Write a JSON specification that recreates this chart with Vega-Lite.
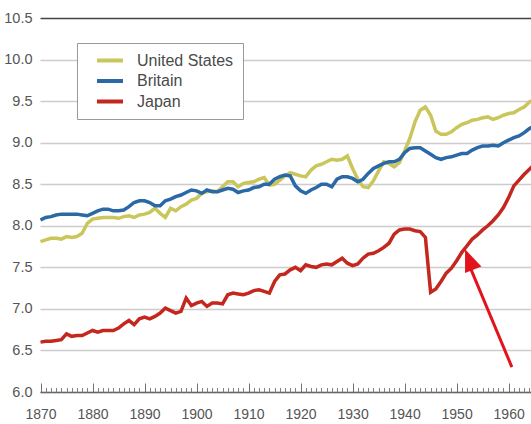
{
  "$schema": "https://vega.github.io/schema/vega-lite/v6.json",
  "width": 491,
  "height": 374,
  "autosize": {"type": "none"},
  "padding": {"left": 40, "top": 18, "right": 0, "bottom": 32},
  "datasets": {
    "series": [
      {"year": 1870, "country": "United States", "value": 7.81},
      {"year": 1871, "country": "United States", "value": 7.83},
      {"year": 1872, "country": "United States", "value": 7.85},
      {"year": 1873, "country": "United States", "value": 7.85},
      {"year": 1874, "country": "United States", "value": 7.84},
      {"year": 1875, "country": "United States", "value": 7.87},
      {"year": 1876, "country": "United States", "value": 7.86},
      {"year": 1877, "country": "United States", "value": 7.87},
      {"year": 1878, "country": "United States", "value": 7.91},
      {"year": 1879, "country": "United States", "value": 8.03},
      {"year": 1880, "country": "United States", "value": 8.08},
      {"year": 1881, "country": "United States", "value": 8.09},
      {"year": 1882, "country": "United States", "value": 8.10},
      {"year": 1883, "country": "United States", "value": 8.10},
      {"year": 1884, "country": "United States", "value": 8.10},
      {"year": 1885, "country": "United States", "value": 8.09},
      {"year": 1886, "country": "United States", "value": 8.11},
      {"year": 1887, "country": "United States", "value": 8.12},
      {"year": 1888, "country": "United States", "value": 8.10},
      {"year": 1889, "country": "United States", "value": 8.13},
      {"year": 1890, "country": "United States", "value": 8.14},
      {"year": 1891, "country": "United States", "value": 8.16},
      {"year": 1892, "country": "United States", "value": 8.21},
      {"year": 1893, "country": "United States", "value": 8.15},
      {"year": 1894, "country": "United States", "value": 8.10},
      {"year": 1895, "country": "United States", "value": 8.21},
      {"year": 1896, "country": "United States", "value": 8.18},
      {"year": 1897, "country": "United States", "value": 8.23},
      {"year": 1898, "country": "United States", "value": 8.26},
      {"year": 1899, "country": "United States", "value": 8.31},
      {"year": 1900, "country": "United States", "value": 8.33},
      {"year": 1901, "country": "United States", "value": 8.39},
      {"year": 1902, "country": "United States", "value": 8.41},
      {"year": 1903, "country": "United States", "value": 8.42},
      {"year": 1904, "country": "United States", "value": 8.41},
      {"year": 1905, "country": "United States", "value": 8.47},
      {"year": 1906, "country": "United States", "value": 8.53},
      {"year": 1907, "country": "United States", "value": 8.53},
      {"year": 1908, "country": "United States", "value": 8.47},
      {"year": 1909, "country": "United States", "value": 8.51},
      {"year": 1910, "country": "United States", "value": 8.52},
      {"year": 1911, "country": "United States", "value": 8.53},
      {"year": 1912, "country": "United States", "value": 8.56},
      {"year": 1913, "country": "United States", "value": 8.58},
      {"year": 1914, "country": "United States", "value": 8.49},
      {"year": 1915, "country": "United States", "value": 8.50},
      {"year": 1916, "country": "United States", "value": 8.55},
      {"year": 1917, "country": "United States", "value": 8.60},
      {"year": 1918, "country": "United States", "value": 8.64},
      {"year": 1919, "country": "United States", "value": 8.62},
      {"year": 1920, "country": "United States", "value": 8.60},
      {"year": 1921, "country": "United States", "value": 8.59},
      {"year": 1922, "country": "United States", "value": 8.67},
      {"year": 1923, "country": "United States", "value": 8.72},
      {"year": 1924, "country": "United States", "value": 8.74},
      {"year": 1925, "country": "United States", "value": 8.77},
      {"year": 1926, "country": "United States", "value": 8.80},
      {"year": 1927, "country": "United States", "value": 8.79},
      {"year": 1928, "country": "United States", "value": 8.80},
      {"year": 1929, "country": "United States", "value": 8.84},
      {"year": 1930, "country": "United States", "value": 8.69},
      {"year": 1931, "country": "United States", "value": 8.56},
      {"year": 1932, "country": "United States", "value": 8.47},
      {"year": 1933, "country": "United States", "value": 8.46},
      {"year": 1934, "country": "United States", "value": 8.54},
      {"year": 1935, "country": "United States", "value": 8.66},
      {"year": 1936, "country": "United States", "value": 8.77},
      {"year": 1937, "country": "United States", "value": 8.75},
      {"year": 1938, "country": "United States", "value": 8.71},
      {"year": 1939, "country": "United States", "value": 8.76},
      {"year": 1940, "country": "United States", "value": 8.90},
      {"year": 1941, "country": "United States", "value": 9.05},
      {"year": 1942, "country": "United States", "value": 9.25},
      {"year": 1943, "country": "United States", "value": 9.39},
      {"year": 1944, "country": "United States", "value": 9.43},
      {"year": 1945, "country": "United States", "value": 9.33},
      {"year": 1946, "country": "United States", "value": 9.14},
      {"year": 1947, "country": "United States", "value": 9.10},
      {"year": 1948, "country": "United States", "value": 9.10},
      {"year": 1949, "country": "United States", "value": 9.13},
      {"year": 1950, "country": "United States", "value": 9.18},
      {"year": 1951, "country": "United States", "value": 9.22},
      {"year": 1952, "country": "United States", "value": 9.24},
      {"year": 1953, "country": "United States", "value": 9.27},
      {"year": 1954, "country": "United States", "value": 9.28},
      {"year": 1955, "country": "United States", "value": 9.30},
      {"year": 1956, "country": "United States", "value": 9.31},
      {"year": 1957, "country": "United States", "value": 9.28},
      {"year": 1958, "country": "United States", "value": 9.30},
      {"year": 1959, "country": "United States", "value": 9.33},
      {"year": 1960, "country": "United States", "value": 9.35},
      {"year": 1961, "country": "United States", "value": 9.36},
      {"year": 1962, "country": "United States", "value": 9.40},
      {"year": 1963, "country": "United States", "value": 9.43},
      {"year": 1964, "country": "United States", "value": 9.49},
      {"year": 1965, "country": "United States", "value": 9.52},
      {"year": 1870, "country": "Britain", "value": 8.07},
      {"year": 1871, "country": "Britain", "value": 8.10},
      {"year": 1872, "country": "Britain", "value": 8.11},
      {"year": 1873, "country": "Britain", "value": 8.13},
      {"year": 1874, "country": "Britain", "value": 8.14},
      {"year": 1875, "country": "Britain", "value": 8.14},
      {"year": 1876, "country": "Britain", "value": 8.14},
      {"year": 1877, "country": "Britain", "value": 8.14},
      {"year": 1878, "country": "Britain", "value": 8.13},
      {"year": 1879, "country": "Britain", "value": 8.12},
      {"year": 1880, "country": "Britain", "value": 8.15},
      {"year": 1881, "country": "Britain", "value": 8.18},
      {"year": 1882, "country": "Britain", "value": 8.20},
      {"year": 1883, "country": "Britain", "value": 8.20},
      {"year": 1884, "country": "Britain", "value": 8.18},
      {"year": 1885, "country": "Britain", "value": 8.18},
      {"year": 1886, "country": "Britain", "value": 8.19},
      {"year": 1887, "country": "Britain", "value": 8.23},
      {"year": 1888, "country": "Britain", "value": 8.28},
      {"year": 1889, "country": "Britain", "value": 8.30},
      {"year": 1890, "country": "Britain", "value": 8.30},
      {"year": 1891, "country": "Britain", "value": 8.28},
      {"year": 1892, "country": "Britain", "value": 8.24},
      {"year": 1893, "country": "Britain", "value": 8.24},
      {"year": 1894, "country": "Britain", "value": 8.30},
      {"year": 1895, "country": "Britain", "value": 8.32},
      {"year": 1896, "country": "Britain", "value": 8.35},
      {"year": 1897, "country": "Britain", "value": 8.37},
      {"year": 1898, "country": "Britain", "value": 8.40},
      {"year": 1899, "country": "Britain", "value": 8.43},
      {"year": 1900, "country": "Britain", "value": 8.42},
      {"year": 1901, "country": "Britain", "value": 8.39},
      {"year": 1902, "country": "Britain", "value": 8.43},
      {"year": 1903, "country": "Britain", "value": 8.41},
      {"year": 1904, "country": "Britain", "value": 8.41},
      {"year": 1905, "country": "Britain", "value": 8.43},
      {"year": 1906, "country": "Britain", "value": 8.45},
      {"year": 1907, "country": "Britain", "value": 8.44},
      {"year": 1908, "country": "Britain", "value": 8.40},
      {"year": 1909, "country": "Britain", "value": 8.42},
      {"year": 1910, "country": "Britain", "value": 8.43},
      {"year": 1911, "country": "Britain", "value": 8.46},
      {"year": 1912, "country": "Britain", "value": 8.47},
      {"year": 1913, "country": "Britain", "value": 8.50},
      {"year": 1914, "country": "Britain", "value": 8.50},
      {"year": 1915, "country": "Britain", "value": 8.56},
      {"year": 1916, "country": "Britain", "value": 8.59},
      {"year": 1917, "country": "Britain", "value": 8.61},
      {"year": 1918, "country": "Britain", "value": 8.60},
      {"year": 1919, "country": "Britain", "value": 8.48},
      {"year": 1920, "country": "Britain", "value": 8.42},
      {"year": 1921, "country": "Britain", "value": 8.39},
      {"year": 1922, "country": "Britain", "value": 8.43},
      {"year": 1923, "country": "Britain", "value": 8.46},
      {"year": 1924, "country": "Britain", "value": 8.50},
      {"year": 1925, "country": "Britain", "value": 8.50},
      {"year": 1926, "country": "Britain", "value": 8.47},
      {"year": 1927, "country": "Britain", "value": 8.56},
      {"year": 1928, "country": "Britain", "value": 8.59},
      {"year": 1929, "country": "Britain", "value": 8.59},
      {"year": 1930, "country": "Britain", "value": 8.57},
      {"year": 1931, "country": "Britain", "value": 8.53},
      {"year": 1932, "country": "Britain", "value": 8.56},
      {"year": 1933, "country": "Britain", "value": 8.63},
      {"year": 1934, "country": "Britain", "value": 8.69},
      {"year": 1935, "country": "Britain", "value": 8.72},
      {"year": 1936, "country": "Britain", "value": 8.75},
      {"year": 1937, "country": "Britain", "value": 8.77},
      {"year": 1938, "country": "Britain", "value": 8.77},
      {"year": 1939, "country": "Britain", "value": 8.80},
      {"year": 1940, "country": "Britain", "value": 8.88},
      {"year": 1941, "country": "Britain", "value": 8.93},
      {"year": 1942, "country": "Britain", "value": 8.94},
      {"year": 1943, "country": "Britain", "value": 8.94},
      {"year": 1944, "country": "Britain", "value": 8.90},
      {"year": 1945, "country": "Britain", "value": 8.86},
      {"year": 1946, "country": "Britain", "value": 8.82},
      {"year": 1947, "country": "Britain", "value": 8.80},
      {"year": 1948, "country": "Britain", "value": 8.82},
      {"year": 1949, "country": "Britain", "value": 8.83},
      {"year": 1950, "country": "Britain", "value": 8.85},
      {"year": 1951, "country": "Britain", "value": 8.87},
      {"year": 1952, "country": "Britain", "value": 8.87},
      {"year": 1953, "country": "Britain", "value": 8.91},
      {"year": 1954, "country": "Britain", "value": 8.94},
      {"year": 1955, "country": "Britain", "value": 8.96},
      {"year": 1956, "country": "Britain", "value": 8.96},
      {"year": 1957, "country": "Britain", "value": 8.97},
      {"year": 1958, "country": "Britain", "value": 8.96},
      {"year": 1959, "country": "Britain", "value": 9.00},
      {"year": 1960, "country": "Britain", "value": 9.03},
      {"year": 1961, "country": "Britain", "value": 9.06},
      {"year": 1962, "country": "Britain", "value": 9.08},
      {"year": 1963, "country": "Britain", "value": 9.12},
      {"year": 1964, "country": "Britain", "value": 9.17},
      {"year": 1965, "country": "Britain", "value": 9.20},
      {"year": 1870, "country": "Japan", "value": 6.60},
      {"year": 1871, "country": "Japan", "value": 6.61},
      {"year": 1872, "country": "Japan", "value": 6.61},
      {"year": 1873, "country": "Japan", "value": 6.62},
      {"year": 1874, "country": "Japan", "value": 6.63},
      {"year": 1875, "country": "Japan", "value": 6.70},
      {"year": 1876, "country": "Japan", "value": 6.67},
      {"year": 1877, "country": "Japan", "value": 6.68},
      {"year": 1878, "country": "Japan", "value": 6.68},
      {"year": 1879, "country": "Japan", "value": 6.71},
      {"year": 1880, "country": "Japan", "value": 6.74},
      {"year": 1881, "country": "Japan", "value": 6.72},
      {"year": 1882, "country": "Japan", "value": 6.74},
      {"year": 1883, "country": "Japan", "value": 6.74},
      {"year": 1884, "country": "Japan", "value": 6.74},
      {"year": 1885, "country": "Japan", "value": 6.77},
      {"year": 1886, "country": "Japan", "value": 6.82},
      {"year": 1887, "country": "Japan", "value": 6.86},
      {"year": 1888, "country": "Japan", "value": 6.81},
      {"year": 1889, "country": "Japan", "value": 6.88},
      {"year": 1890, "country": "Japan", "value": 6.90},
      {"year": 1891, "country": "Japan", "value": 6.88},
      {"year": 1892, "country": "Japan", "value": 6.91},
      {"year": 1893, "country": "Japan", "value": 6.95},
      {"year": 1894, "country": "Japan", "value": 7.01},
      {"year": 1895, "country": "Japan", "value": 6.98},
      {"year": 1896, "country": "Japan", "value": 6.95},
      {"year": 1897, "country": "Japan", "value": 6.97},
      {"year": 1898, "country": "Japan", "value": 7.13},
      {"year": 1899, "country": "Japan", "value": 7.04},
      {"year": 1900, "country": "Japan", "value": 7.07},
      {"year": 1901, "country": "Japan", "value": 7.09},
      {"year": 1902, "country": "Japan", "value": 7.03},
      {"year": 1903, "country": "Japan", "value": 7.07},
      {"year": 1904, "country": "Japan", "value": 7.07},
      {"year": 1905, "country": "Japan", "value": 7.06},
      {"year": 1906, "country": "Japan", "value": 7.17},
      {"year": 1907, "country": "Japan", "value": 7.19},
      {"year": 1908, "country": "Japan", "value": 7.18},
      {"year": 1909, "country": "Japan", "value": 7.17},
      {"year": 1910, "country": "Japan", "value": 7.19},
      {"year": 1911, "country": "Japan", "value": 7.22},
      {"year": 1912, "country": "Japan", "value": 7.23},
      {"year": 1913, "country": "Japan", "value": 7.21},
      {"year": 1914, "country": "Japan", "value": 7.19},
      {"year": 1915, "country": "Japan", "value": 7.33},
      {"year": 1916, "country": "Japan", "value": 7.41},
      {"year": 1917, "country": "Japan", "value": 7.42},
      {"year": 1918, "country": "Japan", "value": 7.47},
      {"year": 1919, "country": "Japan", "value": 7.50},
      {"year": 1920, "country": "Japan", "value": 7.46},
      {"year": 1921, "country": "Japan", "value": 7.53},
      {"year": 1922, "country": "Japan", "value": 7.51},
      {"year": 1923, "country": "Japan", "value": 7.50},
      {"year": 1924, "country": "Japan", "value": 7.53},
      {"year": 1925, "country": "Japan", "value": 7.54},
      {"year": 1926, "country": "Japan", "value": 7.53},
      {"year": 1927, "country": "Japan", "value": 7.57},
      {"year": 1928, "country": "Japan", "value": 7.61},
      {"year": 1929, "country": "Japan", "value": 7.55},
      {"year": 1930, "country": "Japan", "value": 7.52},
      {"year": 1931, "country": "Japan", "value": 7.54},
      {"year": 1932, "country": "Japan", "value": 7.61},
      {"year": 1933, "country": "Japan", "value": 7.66},
      {"year": 1934, "country": "Japan", "value": 7.67},
      {"year": 1935, "country": "Japan", "value": 7.70},
      {"year": 1936, "country": "Japan", "value": 7.74},
      {"year": 1937, "country": "Japan", "value": 7.79},
      {"year": 1938, "country": "Japan", "value": 7.90},
      {"year": 1939, "country": "Japan", "value": 7.95},
      {"year": 1940, "country": "Japan", "value": 7.96},
      {"year": 1941, "country": "Japan", "value": 7.96},
      {"year": 1942, "country": "Japan", "value": 7.94},
      {"year": 1943, "country": "Japan", "value": 7.93},
      {"year": 1944, "country": "Japan", "value": 7.86},
      {"year": 1945, "country": "Japan", "value": 7.20},
      {"year": 1946, "country": "Japan", "value": 7.24},
      {"year": 1947, "country": "Japan", "value": 7.33},
      {"year": 1948, "country": "Japan", "value": 7.43},
      {"year": 1949, "country": "Japan", "value": 7.49},
      {"year": 1950, "country": "Japan", "value": 7.58},
      {"year": 1951, "country": "Japan", "value": 7.68},
      {"year": 1952, "country": "Japan", "value": 7.76},
      {"year": 1953, "country": "Japan", "value": 7.84},
      {"year": 1954, "country": "Japan", "value": 7.89},
      {"year": 1955, "country": "Japan", "value": 7.95},
      {"year": 1956, "country": "Japan", "value": 8.00},
      {"year": 1957, "country": "Japan", "value": 8.06},
      {"year": 1958, "country": "Japan", "value": 8.13},
      {"year": 1959, "country": "Japan", "value": 8.22},
      {"year": 1960, "country": "Japan", "value": 8.34},
      {"year": 1961, "country": "Japan", "value": 8.48},
      {"year": 1962, "country": "Japan", "value": 8.55},
      {"year": 1963, "country": "Japan", "value": 8.62},
      {"year": 1964, "country": "Japan", "value": 8.68},
      {"year": 1965, "country": "Japan", "value": 8.74}
    ],
    "arrow": [
      {"year": 1960.62, "value": 6.30, "year2": 1952.2, "value2": 7.56, "tipYear": 1951.63, "tipValue": 7.717}
    ]
  },
  "resolve": {"axis": {"x": "independent"}},
  "layer": [
    {
      "data": {"name": "series"},
      "mark": {"type": "line", "strokeWidth": 3.5, "clip": true},
      "encoding": {
        "x": {
          "field": "year",
          "type": "quantitative",
          "scale": {"domain": [1869.9, 1964.3], "nice": false, "zero": false},
          "axis": {
            "title": null,
            "orient": "bottom",
            "format": "d",
            "values": [1870, 1880, 1890, 1900, 1910, 1920, 1930, 1940, 1950, 1960],
            "labelFlush": false,
            "grid": false,
            "domainColor": "#666666",
            "domainWidth": 1.5,
            "tickColor": "#707070",
            "tickWidth": 1,
            "tickSize": -9,
            "labelPadding": 24,
            "labelFont": "Liberation Sans",
            "labelFontSize": 14,
            "labelColor": "#555555"
          }
        },
        "y": {
          "field": "value",
          "type": "quantitative",
          "scale": {"domain": [6, 10.5], "nice": false, "zero": false},
          "axis": {
            "title": null,
            "values": [6, 6.5, 7, 7.5, 8, 8.5, 9, 9.5, 10, 10.5],
            "format": ".1f",
            "domain": false,
            "ticks": false,
            "labelPadding": 8,
            "labelFont": "Liberation Sans",
            "labelFontSize": 14.5,
            "labelColor": "#555555",
            "gridColor": {"condition": {"test": "datum.value === 10.5", "value": "#444444"}, "value": "#cccccc"},
            "gridWidth": 1.5
          }
        },
        "color": {
          "field": "country",
          "type": "nominal",
          "scale": {"domain": ["United States", "Britain", "Japan"], "range": ["#c9c65c", "#2b69a6", "#c3271e"]},
          "legend": {
            "title": null,
            "orient": "none",
            "legendX": 37,
            "legendY": 25,
            "symbolType": "M-2,0L2,0",
            "symbolSize": 169,
            "symbolStrokeWidth": 4,
            "symbolOffset": 15.5,
            "labelOffset": 18.5,
            "labelFont": "Liberation Sans",
            "labelFontSize": 16,
            "labelColor": "#4a4a4a",
            "rowPadding": 3.5,
            "padding": 9,
            "strokeColor": "#999999",
            "fillColor": "#ffffff"
          }
        }
      }
    },
    {
      "data": {"name": "arrow"},
      "mark": {"type": "rule", "color": "#e3131c", "strokeWidth": 3},
      "encoding": {
        "x": {
          "field": "year",
          "type": "quantitative",
          "axis": {
            "title": null,
            "orient": "bottom",
            "values": [1871, 1872, 1873, 1874, 1875, 1876, 1877, 1878, 1879, 1881, 1882, 1883, 1884, 1885, 1886, 1887, 1888, 1889, 1891, 1892, 1893, 1894, 1895, 1896, 1897, 1898, 1899, 1901, 1902, 1903, 1904, 1905, 1906, 1907, 1908, 1909, 1911, 1912, 1913, 1914, 1915, 1916, 1917, 1918, 1919, 1921, 1922, 1923, 1924, 1925, 1926, 1927, 1928, 1929, 1931, 1932, 1933, 1934, 1935, 1936, 1937, 1938, 1939, 1941, 1942, 1943, 1944, 1945, 1946, 1947, 1948, 1949, 1951, 1952, 1953, 1954, 1955, 1956, 1957, 1958, 1959, 1961, 1962, 1963, 1964],
            "labels": false,
            "domain": false,
            "grid": false,
            "tickColor": "#808080",
            "tickWidth": 1,
            "tickSize": -4.5
          }
        },
        "y": {"field": "value", "type": "quantitative"},
        "x2": {"field": "year2"},
        "y2": {"field": "value2"}
      }
    },
    {
      "data": {"name": "arrow"},
      "mark": {"type": "point", "shape": "M0,0L0.8,2L-0.8,2Z", "size": 484, "filled": true, "color": "#e3131c", "opacity": 1, "angle": -21.7},
      "encoding": {
        "x": {"field": "tipYear", "type": "quantitative", "axis": null},
        "y": {"field": "tipValue", "type": "quantitative"}
      }
    }
  ],
  "config": {
    "view": {"stroke": null},
    "font": "Liberation Sans"
  }
}
